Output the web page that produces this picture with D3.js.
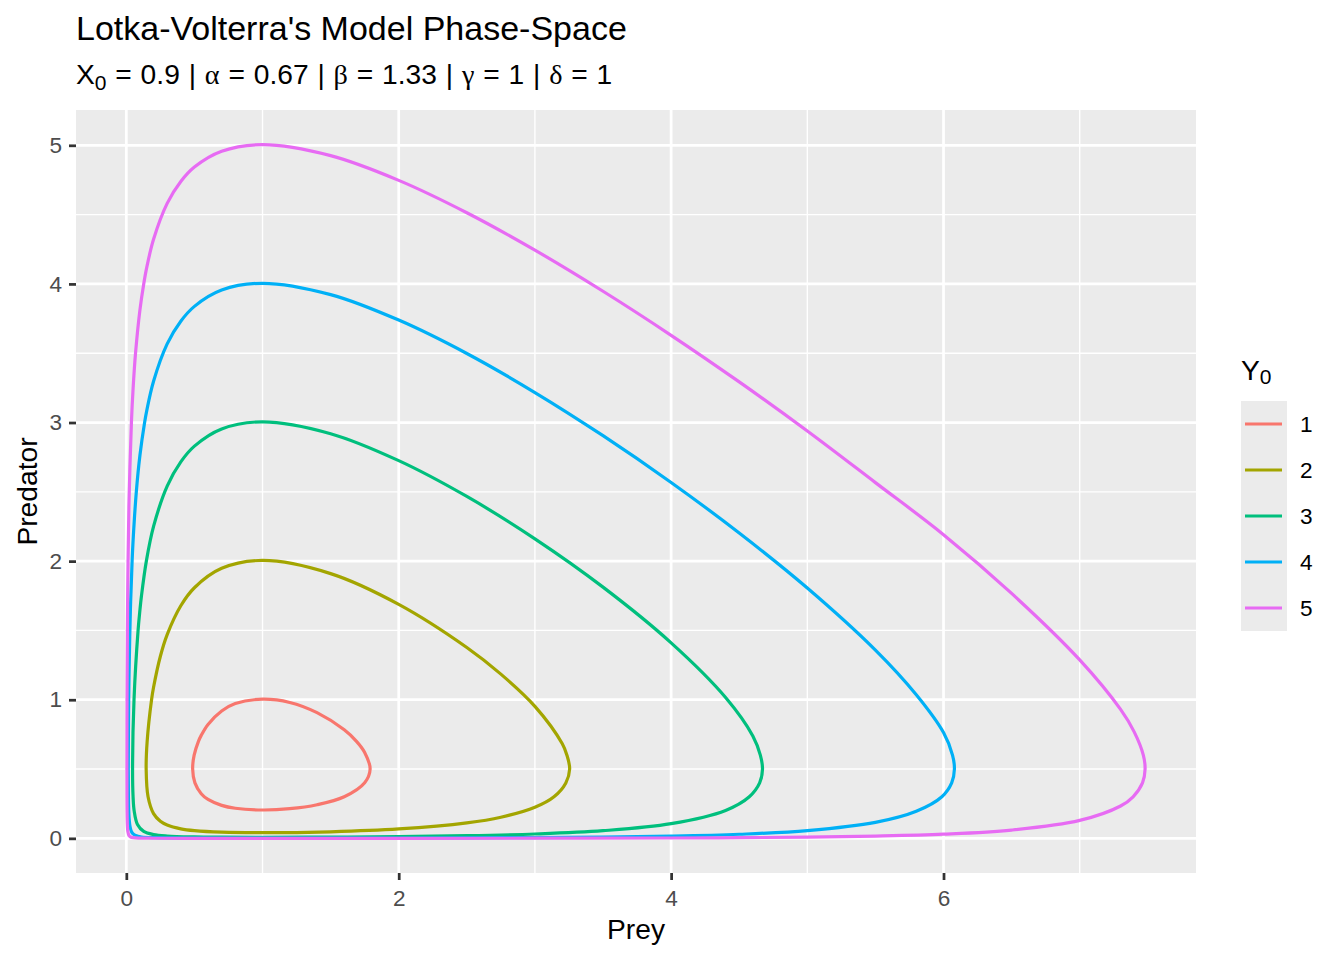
<!DOCTYPE html>
<html>
<head>
<meta charset="utf-8">
<script src="https://cdn.jsdelivr.net/npm/d3@7"></script>
<style>
  body { margin: 0; background: #fff; }
  text { font-family: "Liberation Sans", Arial, sans-serif; }
</style>
</head>
<body>
<svg id="chart" width="1344" height="960"></svg>
<script>
// values, one orbit per initial predator value
const legendLabels = ["1", "2", "3", "4", "5"];
const colors = ["#F8766D", "#A3A500", "#00BF7D", "#00B0F6", "#E76BF3"];

const prey1 = [0.487, 0.498, 0.5295, 0.55, 0.6, 0.7, 0.8, 1, 1.2, 1.4, 1.6, 1.69, 1.75, 1.79, 1.75, 1.6, 1.4, 1.2, 1, 0.8, 0.7, 0.6, 0.55, 0.5037];
const pred1 = [0.5, 0.6, 0.7, 0.743, 0.822, 0.919, 0.973, 1.004, 0.9805, 0.907, 0.783, 0.7, 0.62, 0.5, 0.401, 0.3, 0.2425, 0.214, 0.2045, 0.217, 0.2378, 0.2806, 0.322, 0.4];

const prey2 = [0.1457, 0.153, 0.1853, 0.2, 0.25, 0.3, 0.4, 0.5, 0.7, 1, 1.5, 2, 2.5, 2.75, 3, 3.2, 3.235, 3.255, 3.227, 3.14, 3, 2.75, 2.5, 2, 1.5, 1, 0.7, 0.5, 0.4, 0.3, 0.25, 0.2, 0.1596];
const pred2 = [0.5, 0.7, 1.0, 1.09, 1.314, 1.47, 1.678, 1.808, 1.948, 2.005, 1.91, 1.688, 1.377, 1.185, 0.9525, 0.684, 0.6, 0.5, 0.4, 0.3, 0.2245, 0.1525, 0.1117, 0.0677, 0.0474, 0.0406, 0.0445, 0.0558, 0.0688, 0.0962, 0.1237, 0.1786, 0.3];

const prey3 = [0.0458, 0.0565, 0.0863, 0.1, 0.1113, 0.147, 0.2, 0.3, 0.4, 0.5, 0.7, 1, 1.5, 2, 2.5, 3, 3.5, 4, 4.4, 4.6, 4.655, 4.671, 4.65, 4.574, 4.4, 4, 3.5, 3, 2.5, 2, 1.5, 1, 0.7, 0.5, 0.3, 0.2, 0.1278, 0.082, 0.0574, 0.0496];
const pred3 = [0.5, 1.0, 1.5, 1.648, 1.75, 2.0, 2.2505, 2.5415, 2.716, 2.8295, 2.9535, 3.005, 2.9195, 2.725, 2.4665, 2.161, 1.8125, 1.4106, 1.0165, 0.739, 0.6, 0.5, 0.4, 0.3, 0.2015, 0.1058, 0.0554, 0.0315, 0.0191, 0.0125, 0.00905, 0.00785, 0.00854, 0.0105, 0.0169, 0.0273, 0.05, 0.1, 0.2, 0.3];

const prey4 = [0.01422, 0.01744, 0.02, 0.03, 0.0425, 0.05, 0.0734, 0.1, 0.1342, 0.15, 0.2, 0.3, 0.4, 0.5, 0.7, 1, 1.5, 2, 2.5, 3, 3.5, 4, 4.5, 5, 5.5, 5.8, 6, 6.066, 6.08, 6.06, 5.988, 5.8, 5.5, 5, 4.5, 4, 3.5, 3, 2.5, 2, 1.5, 1, 0.7, 0.5, 0.3, 0.2, 0.1125, 0.0685, 0.05, 0.0374, 0.03, 0.0248, 0.02, 0.0177, 0.01537];
const pred4 = [0.5, 1, 1.188, 1.651, 2, 2.154, 2.5, 2.7635, 3, 3.086, 3.298, 3.5675, 3.731, 3.838, 3.9556, 4.0045, 3.923, 3.739, 3.498, 3.2165, 2.905, 2.5675, 2.203, 1.806, 1.358, 1.036, 0.763, 0.6, 0.5, 0.4, 0.3, 0.1952, 0.1152, 0.056, 0.0295, 0.01622, 0.00926, 0.00549, 0.0034, 0.00225, 0.0016, 0.00142, 0.0015, 0.0019, 0.00302, 0.00477, 0.01, 0.02, 0.0319, 0.05, 0.0719, 0.1, 0.152, 0.2, 0.3];

const prey5 = [0.00432, 0.00529, 0.00786, 0.01, 0.0127, 0.02, 0.0374, 0.05, 0.0676, 0.1, 0.1278, 0.15, 0.2, 0.3, 0.4, 0.5, 0.7, 1, 1.5, 2, 2.5, 3, 3.5, 4, 4.5, 5, 5.5, 6, 6.5, 7, 7.3, 7.4, 7.467, 7.48, 7.461, 7.392, 7.3, 7, 6.5, 6, 5.5, 5, 4.5, 4, 3, 2, 1, 0.5, 0.2, 0.0995, 0.0514, 0.0319, 0.02, 0.0112, 0.0075, 0.00537, 0.00467];
const pred5 = [0.5, 1, 1.5, 1.76, 2, 2.4375, 3, 3.249, 3.5, 3.813, 4, 4.119, 4.322, 4.581, 4.739, 4.843, 4.957, 5.0045, 4.9253, 4.747, 4.5135, 4.2437, 3.947, 3.6293, 3.293, 2.939, 2.5665, 2.191, 1.767, 1.2875, 0.93, 0.768, 0.6, 0.5, 0.4, 0.3, 0.2333, 0.1293, 0.0596, 0.030, 0.0162, 0.00875, 0.00482, 0.00271, 0.00093, 0.00038, 0.00024, 0.00032, 0.00081, 0.002, 0.005, 0.01, 0.02, 0.05, 0.1, 0.2, 0.3];

const xBreaks = [0, 2, 4, 6];
const xMinor = [1, 3, 5, 7];
const yBreaks = [0, 1, 2, 3, 4, 5];
const yMinor = [0.5, 1.5, 2.5, 3.5, 4.5];

const preys = [prey1, prey2, prey3, prey4, prey5];
const preds = [pred1, pred2, pred3, pred4, pred5];
const orbits = legendLabels.map((k, i) => ({
  key: k,
  color: colors[i],
  pts: preys[i].map((v, j) => [v, preds[i][j]])
}));

const svg = d3.select("#chart");
svg.append("rect").attr("width", 1344).attr("height", 960).attr("fill", "#fff");

const panel = { left: 76, right: 1196, top: 110, bottom: 873 };

// ggplot style 5% expansion
const pad = (ext) => { const s = ext[1] - ext[0]; return [ext[0] - 0.05 * s, ext[1] + 0.05 * s]; };
const x = d3.scaleLinear().domain(pad(d3.extent(preys.flat()))).range([panel.left, panel.right]);
const y = d3.scaleLinear().domain(pad(d3.extent(preds.flat()))).range([panel.bottom, panel.top]);

svg.append("rect")
  .attr("x", panel.left).attr("y", panel.top)
  .attr("width", panel.right - panel.left).attr("height", panel.bottom - panel.top)
  .attr("fill", "#EBEBEB");

const grid = svg.append("g");
grid.selectAll(".vminor").data(xMinor).enter().append("line")
  .attr("x1", d => x(d)).attr("x2", d => x(d))
  .attr("y1", panel.top).attr("y2", panel.bottom)
  .attr("stroke", "#fff").attr("stroke-width", 1.37);
grid.selectAll(".hminor").data(yMinor).enter().append("line")
  .attr("y1", d => y(d)).attr("y2", d => y(d))
  .attr("x1", panel.left).attr("x2", panel.right)
  .attr("stroke", "#fff").attr("stroke-width", 1.37);
grid.selectAll(".vmajor").data(xBreaks).enter().append("line")
  .attr("x1", d => x(d)).attr("x2", d => x(d))
  .attr("y1", panel.top).attr("y2", panel.bottom)
  .attr("stroke", "#fff").attr("stroke-width", 2.74);
grid.selectAll(".hmajor").data(yBreaks).enter().append("line")
  .attr("y1", d => y(d)).attr("y2", d => y(d))
  .attr("x1", panel.left).attr("x2", panel.right)
  .attr("stroke", "#fff").attr("stroke-width", 2.74);

const line = d3.line()
  .x(d => x(d[0]))
  .y(d => y(d[1]))
  .curve(d3.curveCatmullRomClosed.alpha(0.5));

svg.append("g").selectAll("path").data(orbits).enter().append("path")
  .attr("d", d => line(d.pts))
  .attr("fill", "none")
  .attr("stroke", d => d.color)
  .attr("stroke-width", 3.2)
  .attr("stroke-linejoin", "round");

// axes
const xAxis = svg.append("g")
  .attr("transform", `translate(0,${panel.bottom})`)
  .call(d3.axisBottom(x).tickValues(xBreaks).tickSize(7).tickPadding(10).tickFormat(d3.format("d")));
const yAxis = svg.append("g")
  .attr("transform", `translate(${panel.left},0)`)
  .call(d3.axisLeft(y).tickValues(yBreaks).tickSize(7).tickPadding(7).tickFormat(d3.format("d")));
[xAxis, yAxis].forEach(a => {
  a.select(".domain").remove();
  a.selectAll(".tick line").attr("stroke", "#333333").attr("stroke-width", 2.74);
  a.selectAll(".tick text")
    .attr("fill", "#4D4D4D")
    .style("font-family", '"Liberation Sans", Arial, sans-serif')
    .style("font-size", "22.6px");
});

svg.append("text")
  .attr("x", (panel.left + panel.right) / 2).attr("y", 939)
  .attr("text-anchor", "middle").style("font-size", "28.2px").text("Prey");
svg.append("text")
  .attr("transform", `translate(37,${(panel.top + panel.bottom) / 2}) rotate(-90)`)
  .attr("text-anchor", "middle").style("font-size", "28.2px").text("Predator");

// titles
svg.append("text").attr("x", 76).attr("y", 40)
  .style("font-size", "34px").text("Lotka-Volterra's Model Phase-Space");

const sub = svg.append("text").attr("x", 76).attr("y", 84)
  .style("font-size", "28.2px").style("word-spacing", "1px");
const greek = '"Liberation Serif", "DejaVu Serif", serif';
sub.append("tspan").text("X");
sub.append("tspan").attr("dy", 6).style("font-size", "21px").text("0");
sub.append("tspan").attr("dy", -6).text(" = 0.9 | ");
sub.append("tspan").style("font-family", greek).text("α");
sub.append("tspan").text(" = 0.67 | ");
sub.append("tspan").style("font-family", greek).text("β");
sub.append("tspan").text(" = 1.33 | ");
sub.append("tspan").style("font-family", greek).text("γ");
sub.append("tspan").text(" = 1 | ");
sub.append("tspan").style("font-family", greek).text("δ");
sub.append("tspan").text(" = 1");

// legend
const lg = svg.append("g");
const lt = lg.append("text").attr("x", 1241).attr("y", 380).style("font-size", "28.2px");
lt.append("tspan").text("Y");
lt.append("tspan").attr("dy", 4).style("font-size", "21px").text("0");

const keyTop = 401, keySize = 46, keyLeft = 1241;
lg.append("rect")
  .attr("x", keyLeft).attr("y", keyTop)
  .attr("width", keySize).attr("height", keySize * orbits.length)
  .attr("fill", "#EBEBEB");
const items = lg.selectAll(".item").data(orbits).enter().append("g")
  .attr("transform", (d, i) => `translate(${keyLeft},${keyTop + i * keySize + keySize / 2})`);
items.append("line")
  .attr("x1", 4).attr("x2", 41).attr("y1", 0).attr("y2", 0)
  .attr("stroke", d => d.color).attr("stroke-width", 3.2);
items.append("text")
  .attr("x", 59).attr("y", 8)
  .style("font-size", "22.6px").attr("fill", "#000")
  .text(d => d.key);
</script>
</body>
</html>
